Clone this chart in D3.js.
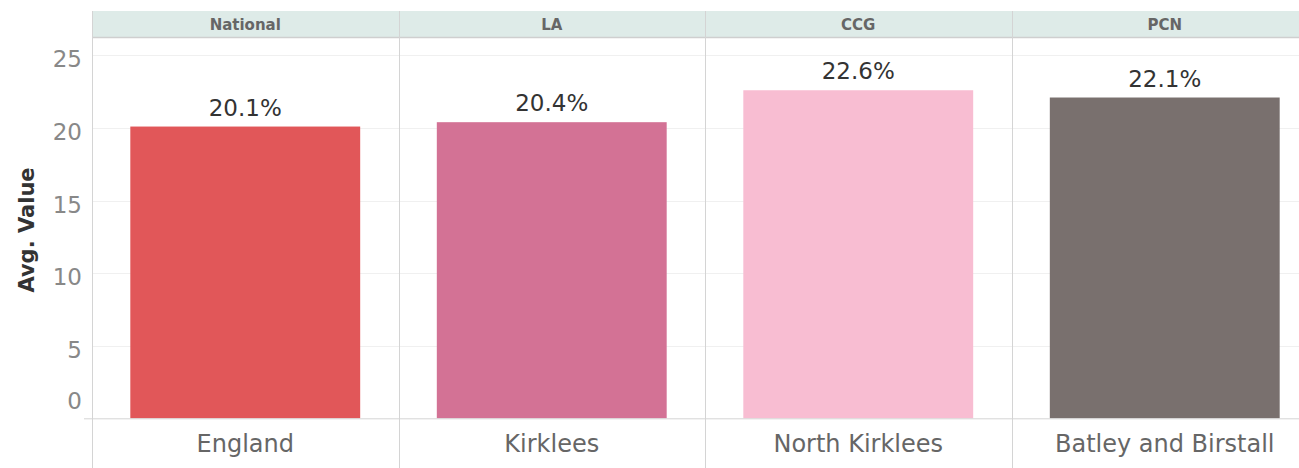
<!DOCTYPE html>
<html>
<head>
<meta charset="utf-8">
<script src="https://cdn.jsdelivr.net/npm/d3@7"></script>
<style>
  body { margin: 0; background: #fff; }
  svg { display: block; font-family: 'DejaVu Sans', sans-serif; }
</style>
</head>
<body>
<svg id="chart" width="1299" height="468"></svg>
<script>
var levels = ['National', 'LA', 'CCG', 'PCN']
var areas = ['England', 'Kirklees', 'North Kirklees', 'Batley and Birstall']
var values = [20.1, 20.4, 22.6, 22.1]
var colors = ['#e15759', '#d37295', '#f8bdd2', '#79706e']
var yTicks = [0, 5, 10, 15, 20, 25]

var svg = d3.select('#chart'),
  margin = {top: 38, left: 92},
  paneW = 306.5,
  width = paneW * levels.length,
  headerTop = 11,
  baseline = 418.3

var x = d3.scaleBand().domain(levels).range([margin.left, margin.left + width]).paddingInner(0).paddingOuter(0)
var y = d3.scaleLinear().domain([0, 26.2]).range([baseline, margin.top])

// header band
svg.append('rect')
  .attr('x', margin.left).attr('y', headerTop)
  .attr('width', width).attr('height', margin.top - headerTop)
  .attr('fill', '#deebe8')

svg.selectAll('.hdr')
  .data(levels)
  .enter().append('text')
  .attr('class', 'hdr')
  .attr('x', function (d) { return x(d) + x.bandwidth() / 2 })
  .attr('y', 30)
  .attr('text-anchor', 'middle')
  .attr('font-size', 15)
  .attr('font-weight', 'bold')
  .attr('fill', '#666')
  .text(function (d) { return d })

// gridlines
svg.append('g')
  .selectAll('line')
  .data(yTicks.filter(function (d) { return d > 0 }))
  .enter().append('line')
  .attr('x1', margin.left).attr('x2', margin.left + width)
  .attr('y1', function (d) { return Math.round(y(d)) + 0.5 })
  .attr('y2', function (d) { return Math.round(y(d)) + 0.5 })
  .attr('stroke', '#f0f0f0')

// y axis
var yAxis = svg.append('g')
  .attr('transform', 'translate(' + margin.left + ',0)')
  .call(d3.axisLeft(y).tickValues(yTicks).tickSize(0).tickPadding(10))
yAxis.select('.domain').remove()
yAxis.selectAll('text')
  .attr('font-size', 23)
  .attr('fill', '#888')
  .attr('font-family', "'DejaVu Sans', sans-serif")
  .attr('dy', function (d) { return d === 0 ? '-0.43em' : '0.5em' })

svg.append('text')
  .attr('transform', 'translate(34,230) rotate(-90)')
  .attr('text-anchor', 'middle')
  .attr('font-size', 21)
  .attr('font-weight', 'bold')
  .attr('fill', '#333')
  .text('Avg. Value')

// bars
var inner = d3.scaleBand().domain(levels).range([margin.left, margin.left + width]).paddingInner(0.25).paddingOuter(0.125)

svg.selectAll('.bar')
  .data(values)
  .enter().append('rect')
  .attr('class', 'bar')
  .attr('x', function (d, i) { return inner(levels[i]) })
  .attr('y', function (d) { return y(d) })
  .attr('width', inner.bandwidth())
  .attr('height', function (d) { return baseline - y(d) })
  .attr('fill', function (d, i) { return colors[i] })

svg.selectAll('.barValue')
  .data(values)
  .enter().append('text')
  .attr('class', 'barValue')
  .attr('x', function (d, i) { return x(levels[i]) + x.bandwidth() / 2 })
  .attr('y', function (d) { return y(d) - 11 })
  .attr('text-anchor', 'middle')
  .attr('font-size', 23)
  .attr('fill', '#333')
  .text(function (d) { return d3.format('.1f')(d) + '%' })

// baseline and dividers
svg.append('line')
  .attr('x1', 84).attr('x2', margin.left + width)
  .attr('y1', baseline + 0.5).attr('y2', baseline + 0.5)
  .attr('stroke', '#d4d4d4')

svg.append('line')
  .attr('x1', margin.left).attr('x2', margin.left + width)
  .attr('y1', margin.top - 0.5).attr('y2', margin.top - 0.5)
  .attr('stroke', '#cfcfcf').attr('stroke-width', 1.5)

svg.selectAll('.divider')
  .data(levels)
  .enter().append('line')
  .attr('class', 'divider')
  .attr('x1', function (d) { return Math.round(x(d)) + 0.5 })
  .attr('x2', function (d) { return Math.round(x(d)) + 0.5 })
  .attr('y1', headerTop).attr('y2', 468)
  .attr('stroke', '#d4d4d4')

// category labels
svg.selectAll('.area')
  .data(areas)
  .enter().append('text')
  .attr('class', 'area')
  .attr('x', function (d, i) { return x(levels[i]) + x.bandwidth() / 2 })
  .attr('y', 452)
  .attr('text-anchor', 'middle')
  .attr('font-size', 24)
  .attr('fill', '#666')
  .text(function (d) { return d })
</script>
</body>
</html>
